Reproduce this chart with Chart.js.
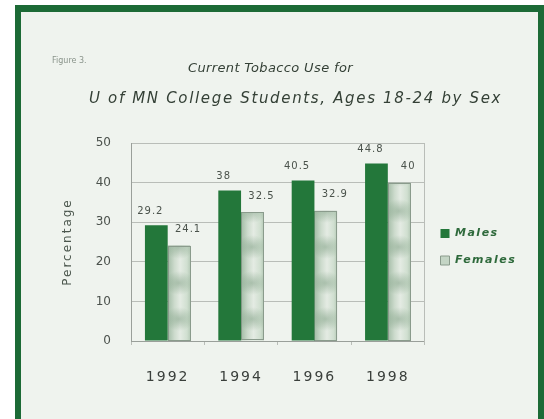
<!DOCTYPE html>
<html>
<head>
<meta charset="utf-8">
<script src="https://cdn.jsdelivr.net/npm/chart.js@4/dist/chart.umd.min.js"></script>
<style>
  html, body { margin: 0; padding: 0; background: #ffffff; overflow: hidden; }
  #frame {
    position: absolute; left: 15px; top: 5px; width: 517px; height: 420px;
    background: #eff3ee;
    border-left: 6px solid #1c6a36; border-top: 7px solid #1c6a36; border-right: 6px solid #1c6a36;
  }
  #wrap { position: absolute; left: 0; top: 0; width: 544px; height: 419px; }
</style>
</head>
<body>
<div id="frame"></div>
<div id="wrap"><canvas id="c" width="544" height="419"></canvas></div>
<script>
// Survey results: share of students reporting current tobacco use
const years = ['1992', '1994', '1996', '1998'];
const males = [29.2, 38, 40.5, 44.8];
const females = [24.1, 32.5, 32.9, 40];
const yMax = 50;
const yStep = 10;

const titleLines = ['Current Tobacco Use for', 'U of MN College Students, Ages 18-24 by Sex'];
const figureLabel = 'Figure 3.';

const MALE_GREEN = '#23773a';
const FEMALE_BASE = '#c4d5c5';
const GRID = '#b9bdb8';

// Draw a line of text spread to a given width
function spreadText(ctx, text, x, y, width) {
  ctx.letterSpacing = '0px';
  const w = ctx.measureText(text).width;
  const sp = Math.max(0, (width - w) / text.length);
  ctx.letterSpacing = sp.toFixed(2) + 'px';
  ctx.fillText(text, x, y);
  ctx.letterSpacing = '0px';
}

// Letter spacing (and an optional vertical nudge) for selected chart parts
function withSpacing(obj, method, spacing, dy) {
  if (!obj || obj['_sp_' + method]) return;
  const orig = obj[method];
  obj[method] = function (...a) {
    const c = this.ctx;
    c.save();
    c.letterSpacing = spacing;
    if (dy) c.translate(0, dy);
    try { return orig.apply(this, a); } finally { c.restore(); }
  };
  obj['_sp_' + method] = true;
}

const spacingPlugin = {
  id: 'spacing',
  beforeUpdate(chart) {
    const lg = chart.legend;
    if (lg && !lg._wideFit) {
      const fit = lg.fit;
      lg.fit = function (...a) { const r = fit.apply(this, a); this.width += 24; return r; };
      lg._wideFit = true;
    }
  },
  afterLayout(chart) {
    withSpacing(chart.scales.x, 'drawLabels', '2px');
    withSpacing(chart.scales.y, 'drawTitle', '2px');
    withSpacing(chart.legend, 'draw', '1.5px', 5);
  }
};

// Headings drawn above the plot
const headingPlugin = {
  id: 'heading',
  beforeDraw(chart) {
    const ctx = chart.ctx;
    ctx.save();
    ctx.textBaseline = 'middle';
    ctx.textAlign = 'left';
    ctx.fillStyle = '#8a948b';
    ctx.font = '8px "DejaVu Sans"';
    ctx.fillText(figureLabel, 52, 61);
    ctx.fillStyle = '#344036';
    ctx.font = 'italic 13px "DejaVu Sans"';
    spreadText(ctx, titleLines[0], 188, 69, 165);
    ctx.font = 'italic 15px "DejaVu Sans"';
    spreadText(ctx, titleLines[1], 89, 99, 413);
    ctx.restore();
  }
};

// Soft mottled fill for the female series, drawn inside each bar
const textureP = {
  id: 'femaleTexture',
  afterDatasetDraw(chart, args) {
    if (args.index !== 1) return;
    const ctx = chart.ctx;
    const base = chart.scales.y.getPixelForValue(0);
    args.meta.data.forEach(el => {
      const p = el.getProps(['x', 'y', 'base', 'width'], true);
      const l = p.x - p.width / 2, r = p.x + p.width / 2;
      const t = p.y, b = p.base;
      ctx.save();
      ctx.beginPath();
      ctx.rect(l, t, r - l, b - t);
      ctx.clip();
      const g = ctx.createLinearGradient(l, 0, r, 0);
      g.addColorStop(0, '#a3bca6');
      g.addColorStop(0.3, '#cddbcd');
      g.addColorStop(0.55, '#e4ebe3');
      g.addColorStop(0.85, '#d0dfd0');
      g.addColorStop(1, '#b6cab7');
      ctx.fillStyle = g;
      ctx.fillRect(l, t, r - l, b - t);
      for (let yy = base - 22; yy > t - 20; yy -= 36) {
        ctx.save();
        ctx.translate(p.x, yy);
        ctx.scale(1, 0.8);
        const rg = ctx.createRadialGradient(0, 0, 1, 0, 0, 15);
        rg.addColorStop(0, 'rgba(85,128,92,0.36)');
        rg.addColorStop(1, 'rgba(85,128,92,0)');
        ctx.fillStyle = rg;
        ctx.fillRect(-p.width / 2, -18, p.width, 36);
        ctx.restore();
      }
      ctx.restore();
      ctx.save();
      ctx.strokeStyle = '#8a9b8c';
      ctx.lineWidth = 1;
      ctx.strokeRect(Math.round(l) + 0.5, Math.round(t) + 0.5, Math.round(r - l) - 1, Math.round(b - t) - 1);
      ctx.restore();
    });
  }
};

// Value labels above each bar
const valueLabels = {
  id: 'valueLabels',
  afterDatasetsDraw(chart) {
    const ctx = chart.ctx;
    ctx.save();
    ctx.font = '10px "DejaVu Sans"';
    ctx.fillStyle = '#4a524b';
    ctx.textAlign = 'center';
    ctx.textBaseline = 'middle';
    ctx.letterSpacing = '1px';
    const sets = [males, females];
    const shift = [-6, 9];
    const lift = [14, 16];
    sets.forEach((vals, di) => {
      chart.getDatasetMeta(di).data.forEach((el, i) => {
        ctx.fillText(String(vals[i]), el.x + shift[di], el.y - lift[di]);
      });
    });
    ctx.restore();
  }
};

new Chart(document.getElementById('c'), {
  type: 'bar',
  data: {
    labels: years,
    datasets: [
      { label: 'Males', data: males, backgroundColor: MALE_GREEN, borderWidth: 0 },
      { label: 'Females', data: females, backgroundColor: FEMALE_BASE, borderColor: '#8a9b8c', borderWidth: 1 }
    ]
  },
  options: {
    responsive: false,
    animation: false,
    events: [],
    layout: { padding: { left: 56, right: 17, top: 143, bottom: 0 } },
    datasets: { bar: { barPercentage: 1, categoryPercentage: 0.62 } },
    plugins: {
      title: { display: false },
      tooltip: { enabled: false },
      legend: {
        position: 'right',
        fullSize: false,
        labels: {
          boxWidth: 9, boxHeight: 9, padding: 16,
          color: '#2f6a3c',
          font: { family: 'DejaVu Sans', size: 11, style: 'italic', weight: 'bold' }
        }
      }
    },
    scales: {
      x: {
        grid: { drawOnChartArea: false, drawTicks: true, tickLength: 4, color: GRID, offset: true },
        border: { display: true, color: '#9a9f9a' },
        ticks: { color: '#3a3f3b', padding: 24, font: { family: 'DejaVu Sans', size: 14 } },
        afterFit(s) { s.height = 78; }
      },
      y: {
        min: 0, max: yMax,
        ticks: { stepSize: yStep, color: '#4b514c', padding: 20, font: { family: 'DejaVu Sans', size: 12 } },
        grid: { color: GRID, drawTicks: false },
        border: { display: true, color: '#9a9f9a' },
        title: { display: true, text: 'Percentage', color: '#4b564d', padding: { top: 5, bottom: 0 },
                 font: { family: 'DejaVu Sans', size: 12 } },
        afterFit(s) { s.width = 75; }
      },
      yRight: {
        position: 'right', min: 0, max: yMax,
        ticks: { display: false },
        grid: { display: false, drawTicks: false },
        border: { display: true, color: GRID },
        afterFit(s) { s.width = 0; }
      }
    }
  },
  plugins: [spacingPlugin, headingPlugin, textureP, valueLabels]
});
</script>
</body>
</html>
